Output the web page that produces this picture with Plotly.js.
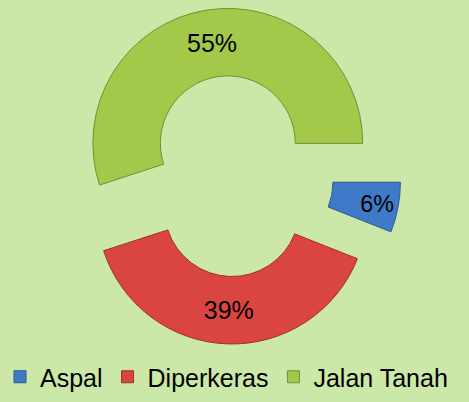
<!DOCTYPE html>
<html>
<head>
<meta charset="utf-8">
<script src="https://cdn.plot.ly/plotly-3.0.1.min.js"></script>
<style>html,body{margin:0;padding:0;background:#CCE8A9;}#chart{width:469px;height:402px;}</style>
</head>
<body>
<div id="chart"></div>
<script>
var categories = ["Aspal", "Diperkeras", "Jalan Tanah"];
var values = [6, 39, 55];
var colors = ["#3F7AC8", "#DA4542", "#A4C94A"];
var borders = ["#2B5A98", "#A02E2C", "#748F30"];

var data = [{
  type: "pie",
  labels: categories,
  values: values,
  sort: false,
  direction: "clockwise",
  rotation: 90,
  hole: 0.5,
  pull: [0.245, 0.245, 0.245],
  domain: {x: [0.1386, 0.855], y: [0, 1]},
  marker: {colors: colors, line: {color: borders, width: 1}},
  textinfo: "percent",
  texttemplate: "%{percent:.0%}",
  textposition: "inside",
  insidetextorientation: "horizontal",
  textfont: {family: "Liberation Sans, Arial, sans-serif", size: 25, color: "#000000"},
  hoverinfo: "label+percent"
}];

var layout = {
  width: 469,
  height: 402,
  paper_bgcolor: "#CCE8A9",
  plot_bgcolor: "#CCE8A9",
  margin: {l: 0, r: 0, t: 8, b: 58},
  showlegend: true,
  legend: {
    orientation: "h",
    x: 0, xanchor: "left",
    y: -0.1667, yanchor: "bottom",
    font: {family: "Liberation Sans, Arial, sans-serif", size: 25, color: "#000000"},
    bgcolor: "rgba(0,0,0,0)",
    itemwidth: 30
  }
};

Plotly.newPlot("chart", data, layout, {displayModeBar: false, staticPlot: true});
</script>
</body>
</html>
